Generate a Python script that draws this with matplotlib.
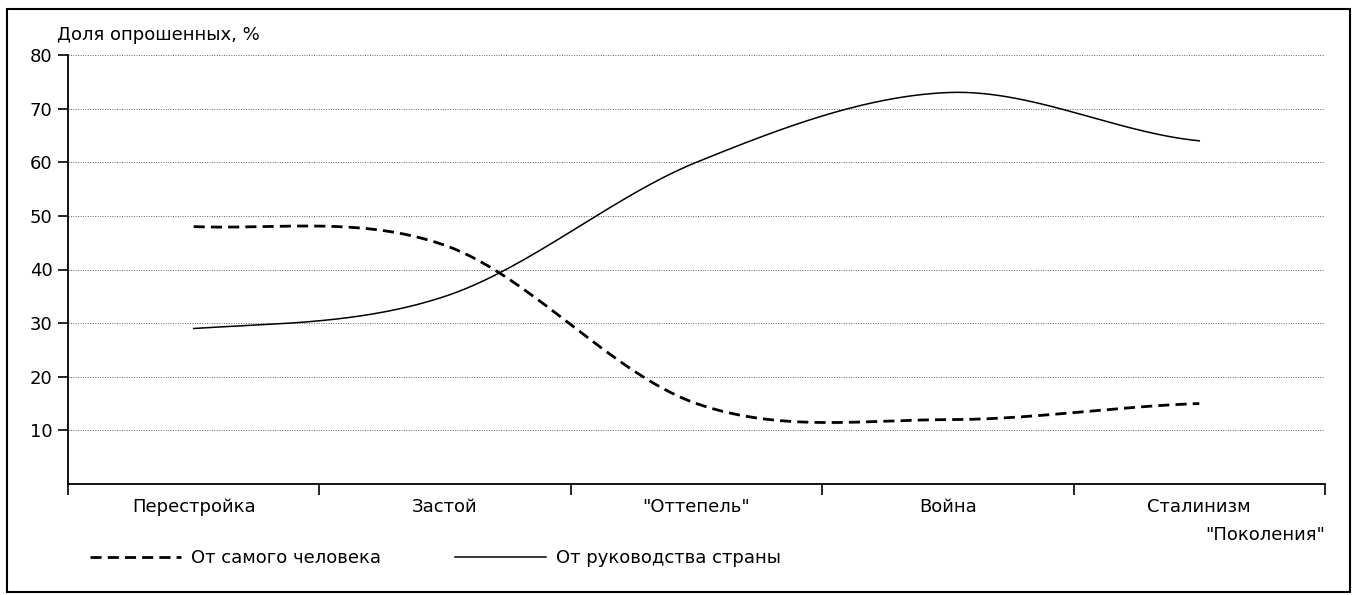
import numpy as np
import matplotlib
matplotlib.use("Agg")
import matplotlib.pyplot as plt
from matplotlib.patches import Rectangle

plt.rcParams['font.family'] = ['DejaVu Sans']

categories = ["Перестройка", "Застой", "\"Оттепель\"", "Война", "Сталинизм"]
self_person = [48, 44.5, 15, 12, 15]      # От самого человека
leadership = [29, 35, 60, 73, 64]         # От руководства страны
y_ticks = [10, 20, 30, 40, 50, 60, 70, 80]


def smooth(y, n=60):
    # catmull-rom, like the "smoothed line" option in spreadsheets
    y = np.asarray(y, dtype=float)
    x = np.arange(len(y), dtype=float)
    p = np.concatenate([[y[0]], y, [y[-1]]])
    xs, ys = [], []
    for i in range(len(y) - 1):
        m0 = (p[i + 2] - p[i]) / 2
        m1 = (p[i + 3] - p[i + 1]) / 2
        t = np.linspace(0, 1, n, endpoint=(i == len(y) - 2))
        h00 = 2 * t**3 - 3 * t**2 + 1
        h10 = t**3 - 2 * t**2 + t
        h01 = -2 * t**3 + 3 * t**2
        h11 = t**3 - t**2
        ys.append(h00 * y[i] + h10 * m0 + h01 * y[i + 1] + h11 * m1)
        xs.append(x[i] + t)
    return np.concatenate(xs), np.concatenate(ys)


fig = plt.figure(figsize=(13.53, 5.95), dpi=100)
ax = fig.add_axes([68 / 1353, 111 / 595, (1325 - 68) / 1353, (484 - 55) / 595])

xd, yd = smooth(self_person)
ax.plot(xd, yd, color="black", lw=2.0, dashes=(4, 2.2), label="От самого человека")
xs, ys = smooth(leadership)
ax.plot(xs, ys, color="black", lw=1.1, label="От руководства страны")

ax.set_xlim(-0.5, len(categories) - 0.5)
ax.set_ylim(0, 80)
ax.set_yticks(y_ticks)
ax.set_yticklabels([str(v) for v in y_ticks], fontsize=13)
ax.set_xticks(np.arange(-0.5, len(categories), 1.0))
ax.set_xticklabels([])
ax.set_xticks(range(len(categories)), minor=True)
ax.set_xticklabels(categories, minor=True, fontsize=13)
ax.tick_params(axis="x", which="minor", length=0, pad=10)
ax.tick_params(axis="x", which="major", length=8, width=1.2, direction="out")
ax.tick_params(axis="y", length=7, width=1.2, direction="out", pad=4)

ax.grid(axis="y", linestyle=(0, (1, 1.5)), color="#666666", lw=0.7)
ax.set_axisbelow(True)
for s in ["top", "right"]:
    ax.spines[s].set_visible(False)
for s in ["left", "bottom"]:
    ax.spines[s].set_linewidth(1.3)

fig.text(57 / 1353, 1 - 35 / 595, "Доля опрошенных, %", fontsize=13, va="center", ha="left")
fig.text(1325 / 1353, 1 - 535 / 595, "\"Поколения\"", fontsize=13, va="center", ha="right")

fig.legend(loc="center left", bbox_to_anchor=(74 / 1353, 1 - 558 / 595), ncol=2,
           frameon=False, fontsize=13, handlelength=5.0, columnspacing=4.1,
           handletextpad=0.6)

fig.patches.append(Rectangle((7 / 1353, 1 - 592 / 595), (1350 - 7) / 1353, (592 - 9) / 595,
                             transform=fig.transFigure, fill=False, edgecolor="black", lw=1.5))

fig.savefig("out.png", dpi=100)
